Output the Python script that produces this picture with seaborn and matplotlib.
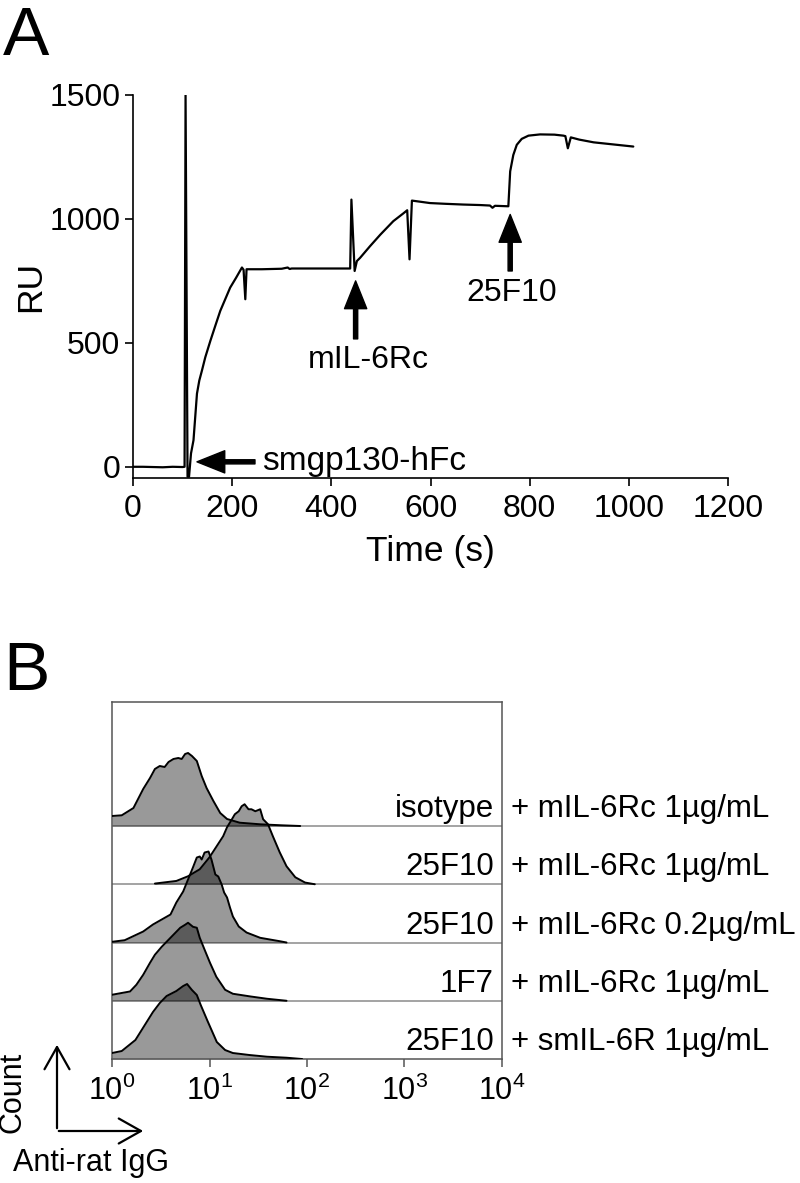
import numpy as np
import seaborn as sns
import matplotlib.pyplot as plt
from matplotlib.patches import FancyArrowPatch

# ---- Panel A: SPR sensorgram ----
time_s = [0, 20, 40, 60, 80, 100, 104, 106, 110, 113, 117, 122, 129, 133.7, 139, 145.8, 156,
          166, 176, 186, 196, 208, 219.7, 223, 226.5, 229, 260, 300, 312, 316, 320, 350,
          400, 438, 440.5, 447, 451.5, 458, 478, 499, 525, 545, 553, 557.7, 562.5, 599,
          630, 666, 700, 720, 725, 730, 757, 760.7, 767, 774, 784, 797.6, 821, 850, 868,
          872, 877, 883, 900, 929, 976, 1009]
ru = [0, 0, -1, -2, 0, -1, 0, 1500, -40, -40, 54, 107, 295, 348, 388, 442, 508,
      569, 629, 676, 723, 763, 804, 795, 676, 797, 797, 799, 804, 798, 800, 800,
      800, 800, 1078, 790, 830, 843, 890, 937, 991, 1022, 1035, 837, 1074, 1064,
      1061, 1058, 1056, 1054, 1045, 1053, 1051, 1192, 1258, 1299, 1323, 1336, 1341, 1340, 1336,
      1334, 1285, 1329, 1320, 1309, 1299, 1292]

# ---- Panel B: flow histograms (log10 fluorescence, counts) ----
iso_logx = [0.0, 0.10, 0.22, 0.32, 0.39, 0.44, 0.49, 0.54, 0.58, 0.63, 0.68, 0.715, 0.75,
            0.78, 0.82, 0.87, 0.92, 0.97, 1.04, 1.11, 1.18, 1.31, 1.52, 1.74, 1.93]
iso_count = [10, 10.7, 18, 37, 48, 57, 60, 59, 64, 67, 68, 67, 72,
             73, 70, 65, 50, 38, 25, 13, 7, 3.3, 1.7, 0.7, 0]

f25_logx = [0.44, 0.66, 0.78, 0.90, 1.00, 1.14, 1.18, 1.23, 1.26, 1.30, 1.33, 1.36, 1.40,
            1.43, 1.47, 1.52, 1.55, 1.60, 1.65, 1.72, 1.79, 1.88, 1.98, 2.08]
f25_count = [0.7, 3.3, 8, 15, 27, 48, 57, 65, 70, 73, 78, 80, 75,
             75, 73, 75, 65, 60, 48, 32, 18, 7, 1.7, 0]

f25lo_logx = [0.0, 0.13, 0.32, 0.42, 0.51, 0.60, 0.66, 0.73, 0.78, 0.83, 0.87, 0.90, 0.92,
              0.95, 0.99, 1.02, 1.06, 1.09, 1.125, 1.15, 1.18, 1.21, 1.24, 1.30, 1.38,
              1.52, 1.72, 1.79]
f25lo_count = [0.7, 2.3, 11, 18, 23, 28, 40, 51, 63, 75, 85, 86, 83,
               90, 91, 83, 68, 66, 58, 50, 45, 35, 26, 16, 10,
               4.7, 1.3, 0]

f7_logx = [0.0, 0.185, 0.25, 0.32, 0.39, 0.44, 0.51, 0.58, 0.65, 0.70, 0.75, 0.78, 0.83,
           0.87, 0.90, 0.95, 1.005, 1.07, 1.16, 1.24, 1.42, 1.59, 1.79]
f7_count = [6, 9.3, 16, 26, 38, 46, 54, 61, 68, 73, 76, 78, 74,
            73, 63, 51, 38, 24, 11, 7, 4.3, 2, 0]

sm_logx = [0.0, 0.10, 0.24, 0.33, 0.42, 0.49, 0.56, 0.66, 0.73, 0.77, 0.82, 0.87, 0.91,
           0.98, 1.075, 1.16, 1.24, 1.41, 1.59, 1.79, 1.95]
sm_count = [6, 8, 19, 33, 47, 56, 63, 68, 73, 75, 69, 64, 54,
            38, 17, 9, 6, 4, 2.3, 1.3, 0]

antibody = ["isotype", "25F10", "25F10", "1F7", "25F10"]
treatment = ["+ mIL-6Rc 1\u00b5g/mL", "+ mIL-6Rc 1\u00b5g/mL", "+ mIL-6Rc 0.2\u00b5g/mL",
             "+ mIL-6Rc 1\u00b5g/mL", "+ smIL-6R 1\u00b5g/mL"]
hists = [(iso_logx, iso_count), (f25_logx, f25_count), (f25lo_logx, f25lo_count),
         (f7_logx, f7_count), (sm_logx, sm_count)]
row_step = 58.25

sns.set_theme(style="ticks")
plt.rcParams['font.family'] = ['Liberation Sans', 'DejaVu Sans']
plt.rcParams['mathtext.fontset'] = 'custom'
plt.rcParams['mathtext.rm'] = 'Liberation Sans'
plt.rcParams['mathtext.it'] = 'Liberation Sans'
for k in ['text.color', 'axes.labelcolor', 'xtick.color', 'ytick.color', 'axes.edgecolor']:
    plt.rcParams[k] = 'black'

fig = plt.figure(figsize=(8, 11.83), dpi=100)

# ---------- A ----------
ax = fig.add_axes([0.16625, 0.5962, 0.74375, 0.3235])
sns.lineplot(x=time_s, y=ru, ax=ax, color="black", lw=1.6, estimator=None)
ax.set_xlim(0, 1200)
ax.set_ylim(-44, 1500)
ax.set_xticks(range(0, 1201, 200))
ax.set_yticks([0, 500, 1000, 1500])
sns.despine(ax=ax)
for s in ["left", "bottom"]:
    ax.spines[s].set_linewidth(1.2)
ax.tick_params(length=6, width=1.2, labelsize=23)
ax.tick_params(axis="x", pad=6)
ax.tick_params(axis="y", pad=3)
ax.set_xlabel("Time (s)", fontsize=25.5, labelpad=8)
ax.set_ylabel("RU", fontsize=25.5, labelpad=2)

arrow = dict(facecolor="black", edgecolor="black", width=3, headwidth=16, headlength=20, shrink=0)
ax.annotate("", xy=(129, 20), xytext=(246, 20), arrowprops=arrow)
ax.text(260, 20, "smgp130-hFc", fontsize=24, va="center", ha="left")
ax.annotate("", xy=(449, 750), xytext=(449, 516), arrowprops=arrow)
ax.text(474, 430, "mIL-6Rc", fontsize=23, va="center", ha="center")
ax.annotate("", xy=(760.7, 1018), xytext=(760.7, 790), arrowprops=arrow)
ax.text(764, 703, "25F10", fontsize=23, va="center", ha="center")

fig.text(0.004, 0.9535, "A", fontsize=50, va="baseline", ha="left")

# ---------- B ----------
bx = fig.add_axes([0.14, 0.1048, 0.4875, 0.3018])
bx.set_xscale("log")
bx.set_xlim(1, 1e4)
bx.set_ylim(0, 357)
n = len(hists)
for i, (lx, cnt) in enumerate(hists):
    base = (n - 1 - i) * row_step
    xs = 10 ** np.array(lx)
    ys = base + np.array(cnt)
    if i < n - 1:
        bx.axhline(base, color="#8a8a8a", lw=1.1, zorder=1)
    bx.fill_between(xs, base, ys, color="black", alpha=0.4, lw=0, zorder=2)
    sns.lineplot(x=xs, y=ys, ax=bx, color="black", lw=1.4, estimator=None, sort=False, zorder=3)
    bx.text(0.979, base + 9, antibody[i], transform=bx.get_yaxis_transform(),
            fontsize=22.5, ha="right", va="baseline")
    bx.text(1.023, base + 9, treatment[i], transform=bx.get_yaxis_transform(),
            fontsize=22.5, ha="left", va="baseline", clip_on=False)

for s in bx.spines.values():
    s.set_color("#555555")
    s.set_linewidth(1.1)
bx.set_yticks([])
bx.set_xticks([1, 10, 100, 1000, 10000])
bx.set_xticklabels([r"$\mathregular{10^{%d}}$" % k for k in range(5)])
bx.tick_params(axis="x", which="major", length=6, width=1.1, labelsize=22, pad=6, color="#555555")
bx.tick_params(axis="x", which="minor", length=3, width=0.8, color="#555555")

fig.text(0.004, 0.4167, "B", fontsize=50, va="baseline", ha="left")

# Count / Anti-rat IgG key
fig.patches.append(FancyArrowPatch(
    (57, 52), (57, 141), arrowstyle="->,head_length=0.8,head_width=0.45",
    mutation_scale=20, lw=1.6, color="black", transform=None))
fig.patches.append(FancyArrowPatch(
    (56, 52), (146, 52), arrowstyle="->,head_length=0.8,head_width=0.45",
    mutation_scale=20, lw=1.6, color="black", transform=None))
fig.text(13 / 800, 91 / 1183, "Count", rotation=90, fontsize=22, ha="center", va="center")
fig.text(13 / 800, 20 / 1183, "Anti-rat IgG", fontsize=22, ha="left", va="center")

fig.savefig("out.png", dpi=100)
